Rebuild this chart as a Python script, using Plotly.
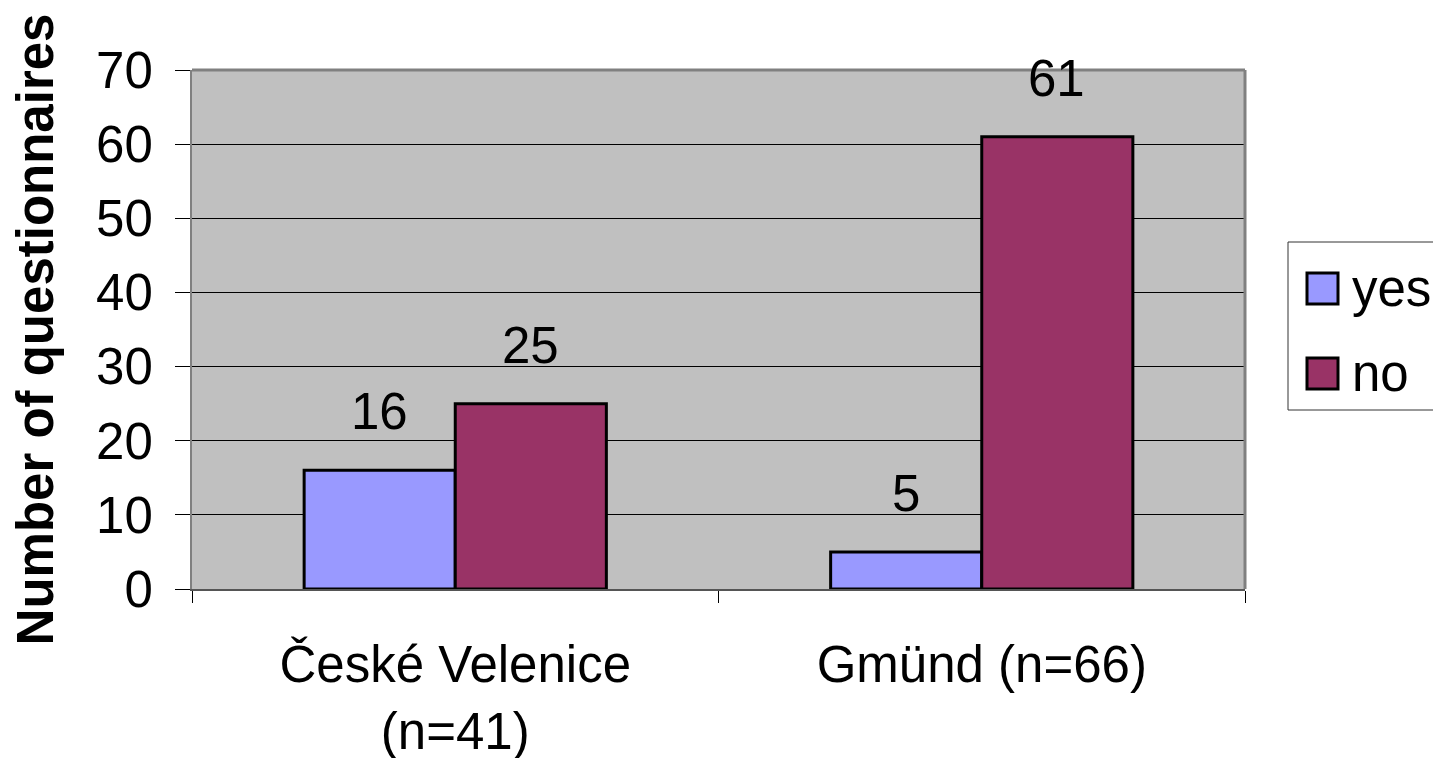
import plotly.graph_objects as go

categories = ["České Velenice<br>(n=41)", "Gmünd (n=66)"]
yes_values = [16, 5]
no_values = [25, 61]
series_names = ["yes", "no"]
y_ticks = [0, 10, 20, 30, 40, 50, 60, 70]

W, H = 1433, 758
L, R, T, B = 192, 188, 70, 169
FONT = "Liberation Sans, Arial, sans-serif"
FS = 51
YES_C = "#9999FF"
NO_C = "#993366"

def px(x):
    return (x - L) / (W - L - R)

def py(y):
    return (H - B - y) / (H - T - B)

fig = go.Figure()
fig.add_trace(go.Bar(x=categories, y=yes_values, name=series_names[0],
                     marker=dict(color=YES_C, line=dict(color="black", width=3)),
                     showlegend=False))
fig.add_trace(go.Bar(x=categories, y=no_values, name=series_names[1],
                     marker=dict(color=NO_C, line=dict(color="black", width=3)),
                     showlegend=False))

annotations = []
for vals, shift in ((yes_values, -76), (no_values, 75)):
    for c, v in zip(categories, vals):
        annotations.append(dict(x=c, y=v, xref="x", yref="y", text=str(v),
                                showarrow=False, xshift=shift, yshift=28,
                                yanchor="bottom",
                                font=dict(family=FONT, size=FS, color="black")))

# legend drawn manually
shapes = [
    dict(type="rect", xref="paper", yref="paper", x0=px(1288), x1=px(1460),
         y0=py(410), y1=py(242), line=dict(color="#333333", width=1),
         fillcolor="white", layer="above"),
]
legend_rows = [(series_names[0], YES_C, 273, 304), (series_names[1], NO_C, 358, 389)]
for name, col, y0, y1 in legend_rows:
    shapes.append(dict(type="rect", xref="paper", yref="paper", x0=px(1307), x1=px(1338),
                       y0=py(y1), y1=py(y0), line=dict(color="black", width=3),
                       fillcolor=col, layer="above"))
    annotations.append(dict(x=px(1350), y=py((y0 + y1) / 2), xref="paper", yref="paper",
                            text=name, showarrow=False, xanchor="left", yanchor="middle",
                            font=dict(family=FONT, size=FS, color="black")))

fig.update_layout(
    width=W, height=H,
    margin=dict(l=L, r=R, t=T, b=B, autoexpand=False),
    paper_bgcolor="white", plot_bgcolor="#C0C0C0",
    barmode="group", bargap=0.426, bargroupgap=0,
    font=dict(family=FONT, size=FS, color="black"),
    shapes=shapes, annotations=annotations,
    showlegend=False,
)
fig.update_xaxes(type="category", tickson="boundaries", ticks="outside", ticklen=12,
                 tickcolor="black", tickwidth=1, showline=True, linecolor="#555555",
                 linewidth=2, mirror=False, showgrid=False,
                 tickfont=dict(family=FONT, size=FS), ticklabelstandoff=30,
                 automargin=False)
fig.update_yaxes(range=[0, 70], tickvals=y_ticks, ticks="outside", ticklen=15,
                 tickcolor="black", tickwidth=1, showline=True, linecolor="#808080",
                 linewidth=2, showgrid=True, gridcolor="black", gridwidth=1,
                 zeroline=False, tickfont=dict(family=FONT, size=FS),
                 ticklabelstandoff=12, automargin=False,
                 title=dict(text="<b>Number of questionnaires</b>",
                            font=dict(family=FONT, size=FS), standoff=26))
# top and right border of the plot area
fig.add_shape(type="line", xref="paper", yref="paper", x0=0, x1=1, y0=1, y1=1,
              line=dict(color="#808080", width=3))
fig.add_shape(type="line", xref="paper", yref="paper", x0=1, x1=1, y0=0, y1=1,
              line=dict(color="#808080", width=3))

fig.write_html("out.html", config={"displayModeBar": False},
               post_script="document.body.style.margin='0';document.body.style.overflow='hidden';")
